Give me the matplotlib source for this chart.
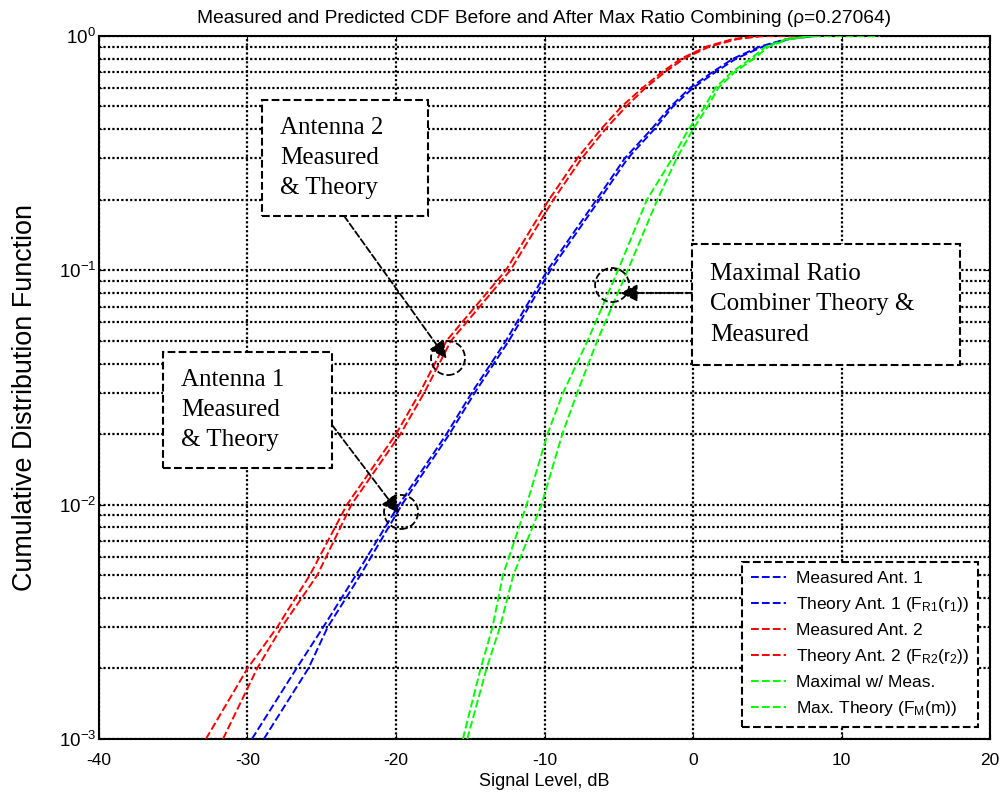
import numpy as np
import matplotlib.pyplot as plt
from matplotlib.patches import Rectangle, Circle
from matplotlib.transforms import ScaledTranslation

plt.rcParams['font.family'] = ['Liberation Sans', 'DejaVu Sans']
plt.rcParams['mathtext.fontset'] = 'custom'
plt.rcParams['mathtext.rm'] = 'Liberation Sans'
plt.rcParams['mathtext.it'] = 'Liberation Sans:italic'
plt.rcParams['axes.unicode_minus'] = False

# CDF levels the curves were read at (last point repeats 1.0 to run along the top)
cdf = [0.001, 0.002, 0.003, 0.005, 0.01, 0.02, 0.03, 0.05, 0.1, 0.2, 0.3,
       0.4, 0.5, 0.6, 0.7, 0.8, 0.9, 0.97, 1.0, 1.0]

# signal level (dB) of each curve at those CDF levels
meas_ant1 = [-28.9, -25.9, -24.6, -22.4, -19.6, -16.4, -14.7, -12.4, -9.6, -6.3,
             -4.4, -2.6, -1.35, 0.0, 1.5, 2.9, 4.7, 6.5, 8.3, 8.3]
theory_ant1 = [-29.7, -26.7, -24.9, -22.7, -19.8, -16.6, -14.9, -12.6, -9.8, -6.5,
               -4.6, -2.8, -1.5, -0.2, 1.3, 2.7, 4.5, 6.3, 8.2, 8.2]
meas_ant2 = [-31.65, -29.35, -27.7, -25.3, -23.0, -19.7, -18.1, -16.3, -12.3, -9.4,
             -7.5, -5.9, -4.5, -3.2, -1.9, -0.6, 1.1, 3.0, 4.8, 7.7]
theory_ant2 = [-32.8, -30.0, -28.0, -25.8, -23.3, -20.0, -18.4, -16.6, -12.6, -9.7,
               -7.8, -6.2, -4.8, -3.4, -2.1, -0.8, 0.9, 2.7, 4.5, 4.5]
meas_mrc = [-15.5, -14.3, -13.5, -12.8, -11.2, -9.8, -8.75, -7.1, -5.05, -3.1,
            -1.4, -0.3, 0.8, 1.5, 2.6, 3.9, 4.9, 6.3, 8.1, 12.6]
theory_mrc = [-15.2, -13.9, -13.0, -12.1, -10.2, -8.8, -7.8, -6.45, -4.4, -2.4,
              -1.1, 0.0, 1.0, 1.7, 2.8, 4.1, 5.1, 6.5, 8.1, 8.1]

labels = ['Measured Ant. 1', r'Theory Ant. 1 ($\mathrm{F_{R1}(r_1)}$)',
          'Measured Ant. 2', r'Theory Ant. 2 ($\mathrm{F_{R2}(r_2)}$)',
          'Maximal w/ Meas.', r'Max. Theory ($\mathrm{F_M(m)}$)']

fig = plt.figure(figsize=(10.05, 7.98), dpi=100)
ax = fig.add_axes([0.0985, 0.074, 0.8866, 0.881])

dash = (0, (4, 1.6))
series = [(meas_ant1, 'b'), (theory_ant1, 'b'), (meas_ant2, 'r'),
          (theory_ant2, 'r'), (meas_mrc, 'lime'), (theory_mrc, 'lime')]
for (xs, c), lab in zip(series, labels):
    ax.plot(xs, cdf, color=c, lw=1.4, linestyle=dash, label=lab, zorder=3)

ax.set_yscale('log')
ax.set_xlim(-40, 20)
ax.set_ylim(1e-3, 1)
ax.set_xticks(np.arange(-40, 21, 10))

ax.grid(True, which='major', axis='x', color='k', linestyle=(0, (1, 1)), lw=1.6)
ax.grid(True, which='both', axis='y', color='k', linestyle=(0, (1, 1)), lw=1.6)
ax.set_axisbelow(True)
ax.tick_params(which='both', direction='in', top=True, right=True)
ax.tick_params(axis='x', labelsize=12.5, pad=10)
ax.tick_params(axis='y', labelsize=13.5, pad=2)
for s in ax.spines.values():
    s.set_linewidth(1.5)

ax.set_title('Measured and Predicted CDF Before and After Max Ratio Combining (\u03c1=0.27064)',
             fontsize=13.8, pad=9)
ax.set_xlabel('Signal Level, dB', fontsize=13, labelpad=4)
ax.set_ylabel('Cumulative Distribution Function', fontsize=19.4)
ax.yaxis.set_label_coords(-0.0684, 0.486)

leg = ax.legend(loc='lower right', fontsize=12.5, handlelength=2.0, labelspacing=0.52,
                borderaxespad=0.7, fancybox=False, framealpha=1, handletextpad=0.6,
                borderpad=0.5)
leg.get_frame().set_edgecolor('k')
leg.get_frame().set_linestyle('--')
leg.get_frame().set_linewidth(1.5)

# annotation boxes (axes fraction)
boxes = [
    ((0.183, 0.744), 0.186, 0.165, 'Antenna 2\nMeasured\n& Theory'),
    ((0.0718, 0.385), 0.190, 0.1655, 'Antenna 1\nMeasured\n& Theory'),
    ((0.6655, 0.532), 0.3005, 0.172, 'Maximal Ratio\nCombiner Theory &\nMeasured'),
]
for (x0, y0), w, h, txt in boxes:
    ax.add_patch(Rectangle((x0, y0), w, h, transform=ax.transAxes, fc='white',
                           ec='k', lw=1.5, ls='--', zorder=5))
    ax.text(x0 + 0.02, y0 + h / 2, txt, transform=ax.transAxes, fontsize=18,
            family='Liberation Serif', va='center', ha='left', linespacing=1.48,
            zorder=6)

# arrows to the curves and circles marking the curve pairs
arrows = [((0.275, 0.744), (-16.6, 0.042)),
          ((0.2615, 0.4467), (-19.8, 0.0092)),
          ((0.6655, 0.6344), (-4.9, 0.080))]
for src, tgt in arrows:
    ax.annotate('', xy=tgt, xycoords='data', xytext=src, textcoords='axes fraction',
                arrowprops=dict(arrowstyle='-|>', color='k', lw=1.3, linestyle='--',
                                mutation_scale=26, shrinkA=0, shrinkB=0), zorder=6)

for cx, cy in [(-16.5, 0.0422), (-19.66, 0.0093), (-5.45, 0.0865)]:
    trans = fig.dpi_scale_trans + ScaledTranslation(cx, cy, ax.transData)
    ax.add_patch(Circle((0, 0), 0.17, transform=trans, fill=False, ec='k',
                        lw=1.3, ls='--', zorder=6))

fig.savefig('out.png', dpi=100)
